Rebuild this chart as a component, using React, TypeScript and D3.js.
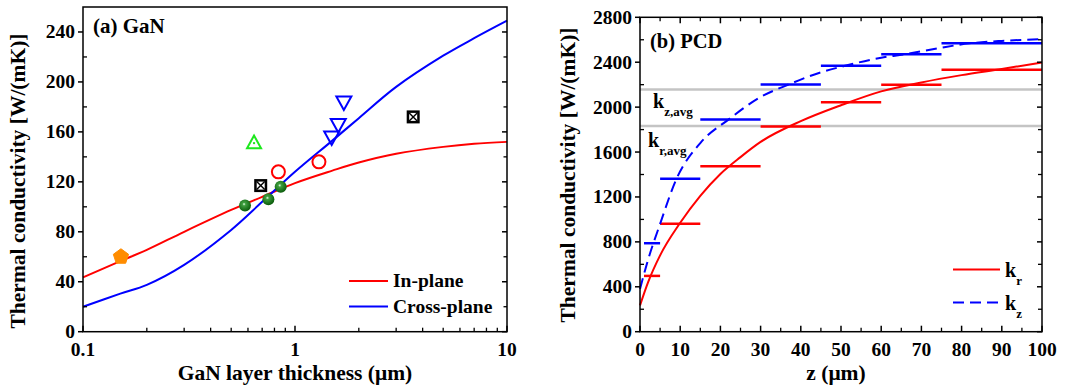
import React from 'react';
import * as d3 from 'd3';

const W = 1089;
const H = 387;
const FONT = '"Liberation Serif", "Times New Roman", serif';

// ---- Panel (a): GaN thermal conductivity vs layer thickness ----
const inPlaneThickness = [0.1, 0.15, 0.2, 0.3, 0.5, 0.7, 1, 1.5, 2, 3, 5, 7, 10];
const inPlaneK = [43.5, 56.5, 65.5, 80, 97.5, 108, 119, 129, 135.5, 142.5, 148, 150.5, 152];
const crossPlaneThickness = [0.1, 0.15, 0.2, 0.3, 0.5, 0.7, 1, 1.5, 2, 3, 5, 7, 10];
const crossPlaneK = [20, 30.5, 37.5, 53.5, 81.5, 104, 128, 153, 171, 196, 221, 235, 249];

const pentagonPts: [number, number][] = [[0.151, 60]];
const upTrianglePts: [number, number][] = [[0.641, 151]];
const boxCrossPts: [number, number][] = [[0.689, 117], [3.61, 172]];
const ballPts: [number, number][] = [[0.581, 101], [0.749, 106], [0.856, 116]];
const openCirclePts: [number, number][] = [[0.835, 128], [1.297, 136]];
const downTrianglePts: [number, number][] = [[1.49, 156], [1.6, 166], [1.7, 184]];

const xTicksA = [0.1, 1, 10];
const yTicksA = [0, 40, 80, 120, 160, 200, 240];

// ---- Panel (b): PCD thermal conductivity vs z ----
const layerEdges = [1, 5, 15, 30, 45, 60, 75, 100];
const kzLayer = [788, 1363, 1889, 2202, 2368, 2472, 2568];
const krLayer = [497, 961, 1473, 1827, 2044, 2199, 2333];
const kzAvg = 2157;
const krAvg = 1833;
const krZ = [0, 2, 5, 10, 15, 20, 25, 30, 40, 50, 60, 70, 80, 90, 100];
const krVal = [235, 440, 680, 970, 1210, 1405, 1555, 1690, 1875, 2017, 2140, 2220, 2285, 2340, 2398];
const kzZ = [0, 2, 5, 9, 15, 22, 30, 37, 45, 51, 60, 66, 75, 82, 90, 100];
const kzVal = [380, 640, 960, 1355, 1680, 1889, 2090, 2202, 2310, 2368, 2440, 2472, 2530, 2568, 2590, 2605];

const xTicksB = [0, 10, 20, 30, 40, 50, 60, 70, 80, 90, 100];
const yTicksB = [0, 400, 800, 1200, 1600, 2000, 2400, 2800];

const RED = '#ff0000';
const BLUE = '#0000ff';

function zip(a: number[], b: number[]): [number, number][] {
  return a.map((v, i) => [v, b[i]]);
}

export default function App() {
  const A = { x0: 83, x1: 507, y0: 7, y1: 331.7 };
  const B = { x0: 640, x1: 1042, y0: 17.3, y1: 331.7 };

  const xa = d3.scaleLog().domain([0.1, 10]).range([A.x0, A.x1]);
  const ya = d3.scaleLinear().domain([0, 260]).range([A.y1, A.y0]);
  const xb = d3.scaleLinear().domain([0, 100]).range([B.x0, B.x1]);
  const yb = d3.scaleLinear().domain([0, 2800]).range([B.y1, B.y0]);

  const lineA = d3.line<[number, number]>().x(d => xa(d[0])).y(d => ya(d[1])).curve(d3.curveCatmullRom.alpha(0.5));
  const lineB = d3.line<[number, number]>().x(d => xb(d[0])).y(d => yb(d[1])).curve(d3.curveMonotoneX);

  const tickFont = { fontFamily: FONT, fontWeight: 700, fontSize: 19.5 } as const;
  const titleFont = { fontFamily: FONT, fontWeight: 700, fontSize: 21.5 } as const;

  // minor ticks
  const minorYA = d3.range(20, 260, 40);
  const minorXA: number[] = [];
  [0.1, 1].forEach(dec => { for (let k = 2; k <= 9; k++) minorXA.push(dec * k); });
  const minorYB = d3.range(200, 2800, 400);
  const minorXB = d3.range(5, 100, 10);

  const pentagon = (cx: number, cy: number, r: number) =>
    d3.range(5).map(i => {
      const a = -Math.PI / 2 + (i * 2 * Math.PI) / 5;
      return `${cx + r * Math.cos(a)},${cy + r * Math.sin(a)}`;
    }).join(' ');

  const tri = (cx: number, cy: number, s: number, up: boolean) => {
    const h = s * 0.9;
    return up
      ? `${cx},${cy - h * 0.6} ${cx - s / 2},${cy + h * 0.4} ${cx + s / 2},${cy + h * 0.4}`
      : `${cx},${cy + h * 0.6} ${cx - s / 2},${cy - h * 0.4} ${cx + s / 2},${cy - h * 0.4}`;
  };

  return (
    <svg width={W} height={H} style={{ position: 'absolute', left: 0, top: 0, background: '#fff' }}>
      <defs>
        <radialGradient id="ball" cx="42%" cy="38%" r="62%">
          <stop offset="0%" stopColor="#e8ffe8" />
          <stop offset="22%" stopColor="#3f9f3f" />
          <stop offset="100%" stopColor="#0a5a0a" />
        </radialGradient>
      </defs>

      {/* ===== Panel (a) ===== */}
      <g>
        {/* curves */}
        <path d={lineA(zip(inPlaneThickness, inPlaneK)) || ''} fill="none" stroke={RED} strokeWidth={2} />
        <path d={lineA(zip(crossPlaneThickness, crossPlaneK)) || ''} fill="none" stroke={BLUE} strokeWidth={2} />

        {/* markers */}
        {pentagonPts.map(([x, y], i) => (
          <polygon key={'p' + i} points={pentagon(xa(x), ya(y), 8)} fill="#ff8c00" stroke="#ff8c00" strokeWidth={1} />
        ))}
        {upTrianglePts.map(([x, y], i) => (
          <g key={'u' + i}>
            <polygon points={tri(xa(x), ya(y), 14, true)} fill="none" stroke="#1ee81e" strokeWidth={2} />
            <circle cx={xa(x)} cy={ya(y)} r={1.2} fill="#1ee81e" />
          </g>
        ))}
        {ballPts.map(([x, y], i) => (
          <circle key={'b' + i} cx={xa(x)} cy={ya(y)} r={6} fill="url(#ball)" />
        ))}
        {openCirclePts.map(([x, y], i) => (
          <circle key={'c' + i} cx={xa(x)} cy={ya(y)} r={6.5} fill="none" stroke={RED} strokeWidth={2} />
        ))}
        {downTrianglePts.map(([x, y], i) => (
          <polygon key={'d' + i} points={tri(xa(x), ya(y), 15, false)} fill="none" stroke={BLUE} strokeWidth={2} />
        ))}
        {boxCrossPts.map(([x, y], i) => {
          const cx = xa(x), cy = ya(y);
          return (
            <g key={'x' + i}>
              <rect x={cx - 6.5} y={cy - 6.5} width={13} height={13} fill="#000" />
              <rect x={cx - 4} y={cy - 4} width={8} height={8} fill="#fff" />
              <line x1={cx - 4} y1={cy - 4} x2={cx + 4} y2={cy + 4} stroke="#000" strokeWidth={1.4} />
              <line x1={cx - 4} y1={cy + 4} x2={cx + 4} y2={cy - 4} stroke="#000" strokeWidth={1.4} />
            </g>
          );
        })}

        {/* frame */}
        <rect x={A.x0} y={A.y0} width={A.x1 - A.x0} height={A.y1 - A.y0} fill="none" stroke="#000" strokeWidth={1.5} />

        {/* y ticks */}
        {yTicksA.map(v => (
          <g key={'ya' + v}>
            <line x1={A.x0 - 5} x2={A.x0} y1={ya(v)} y2={ya(v)} stroke="#000" strokeWidth={1.5} />
            <line x1={A.x1 - 5} x2={A.x1} y1={ya(v)} y2={ya(v)} stroke="#000" strokeWidth={1.5} />
            <text x={A.x0 - 8} y={ya(v) + 6.5} textAnchor="end" {...tickFont}>{v}</text>
          </g>
        ))}
        {minorYA.map(v => (
          <g key={'mya' + v}>
            <line x1={A.x0} x2={A.x0 + 4} y1={ya(v)} y2={ya(v)} stroke="#000" strokeWidth={1.3} />
            <line x1={A.x1 - 3.5} x2={A.x1} y1={ya(v)} y2={ya(v)} stroke="#000" strokeWidth={1.3} />
          </g>
        ))}
        {/* x ticks */}
        {xTicksA.map(v => (
          <g key={'xa' + v}>
            <line x1={xa(v)} x2={xa(v)} y1={A.y1} y2={A.y1 - 6} stroke="#000" strokeWidth={1.5} />
            <text x={xa(v)} y={356} textAnchor="middle" {...tickFont}>{v}</text>
          </g>
        ))}
        {minorXA.map(v => (
          <line key={'mxa' + v} x1={xa(v)} x2={xa(v)} y1={A.y1} y2={A.y1 - 4} stroke="#000" strokeWidth={1.3} />
        ))}

        {/* titles */}
        <text x={(A.x0 + A.x1) / 2} y={380} textAnchor="middle" {...titleFont}>GaN layer thickness (μm)</text>
        <text x={25} y={181} textAnchor="middle" transform="rotate(-90 25 181)" {...titleFont}>
          Thermal conductivity [W/(mK)]
        </text>
        <text x={93} y={33} fontFamily={FONT} fontWeight={700} fontSize={21}>(a) GaN</text>

        {/* legend */}
        <line x1={349} x2={388} y1={281} y2={281} stroke={RED} strokeWidth={2} />
        <line x1={349} x2={388} y1={306.5} y2={306.5} stroke={BLUE} strokeWidth={2} />
        <text x={393} y={287} fontFamily={FONT} fontWeight={700} fontSize={19.5}>In-plane</text>
        <text x={393} y={312.5} fontFamily={FONT} fontWeight={700} fontSize={19.5}>Cross-plane</text>
      </g>

      {/* ===== Panel (b) ===== */}
      <g>
        {/* layer averages */}
        <line x1={B.x0} x2={B.x1} y1={yb(kzAvg)} y2={yb(kzAvg)} stroke="#c4c4c4" strokeWidth={2.5} />
        <line x1={B.x0} x2={B.x1} y1={yb(krAvg)} y2={yb(krAvg)} stroke="#c4c4c4" strokeWidth={2.5} />

        {/* per-layer values */}
        {kzLayer.map((v, i) => (
          <line key={'kz' + i} x1={xb(layerEdges[i])} x2={xb(layerEdges[i + 1])} y1={yb(v)} y2={yb(v)} stroke={BLUE} strokeWidth={2.5} />
        ))}
        {krLayer.map((v, i) => (
          <line key={'kr' + i} x1={xb(layerEdges[i])} x2={xb(layerEdges[i + 1])} y1={yb(v)} y2={yb(v)} stroke={RED} strokeWidth={2.5} />
        ))}

        {/* profiles */}
        <path d={lineB(zip(kzZ, kzVal)) || ''} fill="none" stroke={BLUE} strokeWidth={2} strokeDasharray="11,6" />
        <path d={lineB(zip(krZ, krVal)) || ''} fill="none" stroke={RED} strokeWidth={2} />

        {/* frame */}
        <rect x={B.x0} y={B.y0} width={B.x1 - B.x0} height={B.y1 - B.y0} fill="none" stroke="#000" strokeWidth={1.5} />

        {yTicksB.map(v => (
          <g key={'yb' + v}>
            <line x1={B.x0 - 5} x2={B.x0} y1={yb(v)} y2={yb(v)} stroke="#000" strokeWidth={1.5} />
            <line x1={B.x1 - 5} x2={B.x1} y1={yb(v)} y2={yb(v)} stroke="#000" strokeWidth={1.5} />
            <text x={B.x0 - 8} y={yb(v) + 6.5} textAnchor="end" {...tickFont}>{v}</text>
          </g>
        ))}
        {minorYB.map(v => (
          <g key={'myb' + v}>
            <line x1={B.x0} x2={B.x0 + 4} y1={yb(v)} y2={yb(v)} stroke="#000" strokeWidth={1.3} />
            <line x1={B.x1 - 4} x2={B.x1} y1={yb(v)} y2={yb(v)} stroke="#000" strokeWidth={1.3} />
          </g>
        ))}
        {xTicksB.map(v => (
          <g key={'xb' + v}>
            <line x1={xb(v)} x2={xb(v)} y1={B.y1} y2={B.y1 - 6} stroke="#000" strokeWidth={1.5} />
            <line x1={xb(v)} x2={xb(v)} y1={B.y0} y2={B.y0 + 6} stroke="#000" strokeWidth={1.5} />
            <text x={xb(v)} y={356} textAnchor="middle" {...tickFont}>{v}</text>
          </g>
        ))}
        {minorXB.map(v => (
          <g key={'mxb' + v}>
            <line x1={xb(v)} x2={xb(v)} y1={B.y1} y2={B.y1 - 4} stroke="#000" strokeWidth={1.3} />
            <line x1={xb(v)} x2={xb(v)} y1={B.y0} y2={B.y0 + 4} stroke="#000" strokeWidth={1.3} />
          </g>
        ))}

        <text x={836} y={380} textAnchor="middle" {...titleFont}>z (μm)</text>
        <text x={575} y={175} textAnchor="middle" transform="rotate(-90 575 175)" {...titleFont}>
          Thermal conductivity [W/(mK)]
        </text>
        <text x={650} y={48} fontFamily={FONT} fontWeight={700} fontSize={20.5}>(b) PCD</text>

        {/* average labels */}
        <text x={653} y={108} fontFamily={FONT} fontWeight={700} fontSize={20}>
          k<tspan fontSize={13} dy={8}>z,avg</tspan>
        </text>
        <text x={648} y={147} fontFamily={FONT} fontWeight={700} fontSize={20}>
          k<tspan fontSize={13} dy={8}>r,avg</tspan>
        </text>

        {/* legend */}
        <line x1={953} x2={1000} y1={269.5} y2={269.5} stroke={RED} strokeWidth={2} />
        <line x1={953} x2={1000} y1={302.5} y2={302.5} stroke={BLUE} strokeWidth={2} strokeDasharray="11,6" />
        <text x={1005} y={277} fontFamily={FONT} fontWeight={700} fontSize={20}>
          k<tspan fontSize={13} dy={8}>r</tspan>
        </text>
        <text x={1005} y={310} fontFamily={FONT} fontWeight={700} fontSize={20}>
          k<tspan fontSize={13} dy={8}>z</tspan>
        </text>
      </g>
    </svg>
  );
}
